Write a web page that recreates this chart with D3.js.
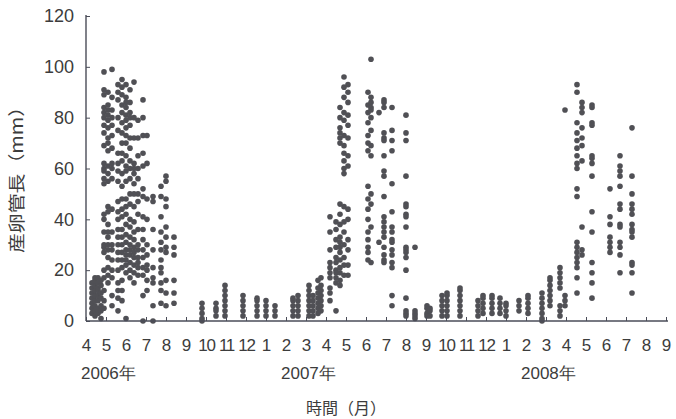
<!DOCTYPE html>
<html>
<head>
<meta charset="utf-8">
<script src="https://cdn.jsdelivr.net/npm/d3@7"></script>
<style>
  html, body { margin: 0; padding: 0; background: #ffffff; }
  svg { display: block; }
</style>
</head>
<body>
<svg id="chart" width="676" height="419"></svg>
<script>
// ---- data ----
const monthLabels = ["4","5","6","7","8","9","10","11","12","1","2","3","4","5","6","7","8","9","10","11","12","1","2","3","4","5","6","7","8","9"];
const yearLabels = ["2006年", "2007年", "2008年"];
const yearLabelMonth = [0, 10, 22];
const yTicks = [0, 20, 40, 60, 80, 100, 120];

// sampling dates, as months since April 2006
const sampleMonths = [
  0.30, 0.45, 0.60, 0.75, 0.90, 1.10, 1.30, 1.60, 1.80, 2.00, 2.20, 2.40, 2.60, 2.85, 3.05, 3.35, 3.75, 4.00, 4.40,
  5.80, 6.50, 6.95, 7.85, 8.55, 9.00, 9.45, 10.35, 10.60, 11.15, 11.35, 11.60, 11.75,
  12.20, 12.50, 12.70, 12.90, 13.10, 14.10, 14.25, 14.65, 14.90, 15.30, 16.00, 16.45,
  17.05, 17.20, 17.80, 18.05, 18.70, 19.60, 19.85, 20.30, 20.70, 21.00, 21.65, 22.10,
  22.80, 23.20, 23.70, 23.95, 24.55, 24.80, 25.30, 26.20, 26.70, 27.30
];
// ovipositor lengths (mm) measured at each sampling date
const sampleValues = [
  [3, 5, 7, 9, 11, 13, 15],
  [2, 4, 6, 8, 10, 12, 14, 16, 17],
  [3, 5, 8, 10, 12, 13, 15, 17],
  [1, 4, 6, 9, 11, 14, 16],
  [98, 91, 89, 84, 82, 80, 77, 74, 69, 62, 60, 59, 56, 54, 42, 40, 35, 30, 29, 27, 20, 17, 12, 8, 5],
  [90, 85, 83, 81, 79, 76, 72, 70, 67, 61, 58, 55, 45, 43, 38, 35, 33, 30, 28, 25, 21, 18, 15],
  [99, 88, 83, 80, 77, 73, 68, 62, 60, 56, 44, 35, 30, 28, 24, 20, 17, 10, 6],
  [93, 90, 87, 80, 75, 66, 62, 59, 55, 47, 43, 40, 36, 33, 30, 27, 24, 20, 15, 12, 9, 4],
  [95, 92, 89, 85, 82, 78, 74, 70, 66, 63, 58, 53, 48, 44, 41, 36, 33, 30, 27, 24, 21, 16, 12, 8],
  [93, 88, 86, 84, 81, 79, 76, 73, 70, 65, 61, 59, 55, 48, 45, 42, 38, 34, 31, 28, 26, 24, 22, 19, 1],
  [91, 86, 82, 80, 77, 72, 68, 63, 60, 56, 50, 46, 40, 37, 33, 30, 28, 26, 23, 20, 17],
  [94, 80, 72, 62, 60, 58, 54, 50, 45, 39, 35, 32, 29, 27, 25, 22, 19, 15],
  [79, 72, 65, 60, 56, 50, 47, 42, 36, 30, 28, 25, 23, 21, 18],
  [87, 80, 73, 66, 61, 52, 49, 41, 36, 32, 28, 25, 21, 18, 10, 0],
  [73, 62, 48, 40, 30, 26, 22, 20, 16, 12],
  [49, 47, 36, 28, 21, 17, 15, 6, 0],
  [53, 49, 41, 35, 31, 28, 24, 21, 19, 15, 12, 7],
  [57, 55, 48, 45, 37, 33, 29, 27, 16, 11, 6],
  [33, 29, 26, 16, 11, 7],
  [0, 1, 3, 5, 7],
  [2, 4, 5, 7],
  [2, 4, 6, 8, 10, 12, 14],
  [2, 4, 6, 8, 10],
  [2, 4, 6, 8, 9],
  [2, 4, 6, 8],
  [2, 4, 6],
  [2, 4, 6, 8, 9],
  [2, 4, 6, 8, 10],
  [2, 4, 6, 8, 10, 12, 14],
  [2, 4, 6, 8, 10],
  [3, 5, 7, 9, 11, 13, 16],
  [4, 6, 8, 10, 12, 14, 17],
  [41, 35, 28, 23, 21, 19, 17, 13, 11, 8],
  [39, 36, 32, 29, 25, 23, 20, 19, 17, 15, 4],
  [84, 80, 76, 74, 72, 70, 46, 42, 38, 33, 31, 29, 27, 24, 21, 19, 16, 14],
  [96, 92, 88, 82, 79, 73, 69, 66, 63, 60, 58, 45, 39, 35, 30, 25, 22, 18],
  [93, 90, 86, 81, 77, 72, 65, 61, 44, 40, 32, 28, 22, 18],
  [90, 85, 82, 78, 73, 70, 67, 53, 48, 44, 40, 35, 32, 29, 27, 24],
  [103, 88, 86, 84, 83, 80, 75, 69, 65, 50, 46, 37, 23],
  [82, 31],
  [87, 86, 84, 74, 72, 71, 65, 59, 57, 49, 41, 39, 37, 35, 33, 29, 26, 24, 23],
  [84, 75, 71, 67, 54, 43, 37, 35, 32, 31, 28, 26, 23, 21, 10, 6],
  [81, 74, 71, 57, 46, 45, 42, 41, 37, 29, 28, 27, 25, 20, 9, 4, 3, 2],
  [29, 1, 2, 3, 4],
  [2, 3, 5, 6],
  [2, 4, 5],
  [2, 4, 6, 8, 10],
  [2, 4, 6, 8, 10, 11],
  [2, 4, 6, 8, 10, 12, 13],
  [2, 4, 6, 8],
  [3, 5, 7, 9, 10],
  [3, 5, 7, 9, 10],
  [3, 5, 7, 9],
  [2, 4, 6, 7],
  [4, 6, 8],
  [3, 5, 7, 9, 10],
  [0, 1, 3, 5, 7, 9, 11],
  [6, 8, 10, 12, 14, 16, 17],
  [2, 4, 6, 13, 15, 17, 19, 21],
  [83, 6, 8, 10],
  [93, 90, 78, 74, 71, 68, 65, 62, 60, 52, 49, 31, 29, 27, 25, 23, 21, 17, 11],
  [86, 84, 82, 76, 72, 69, 63, 37, 28, 26],
  [85, 84, 78, 77, 65, 64, 62, 57, 43, 35, 23, 19, 15, 9],
  [52, 41, 38, 33, 31, 29, 27],
  [65, 61, 59, 57, 53, 46, 44, 38, 37, 31, 29, 26, 19],
  [76, 57, 50, 46, 44, 42, 38, 36, 35, 33, 23, 22, 19, 11]
];

// ---- chart ----
const svg = d3.select("#chart");
const x = d3.scaleLinear().domain([0, 29]).range([86, 666]);
const y = d3.scaleLinear().domain([0, 120]).range([321, 16]);

const axisColor = "#4a4c58";
const textColor = "#3c3c3c";
const font = "'Liberation Sans', Arial, sans-serif";
const cjk = "'Noto Sans CJK JP', 'Noto Sans CJK SC', sans-serif";

const points = [];
sampleMonths.forEach((m, i) => sampleValues[i].forEach(v => points.push({m, v})));

// points
svg.append("g").selectAll("circle").data(points).join("circle")
  .attr("cx", d => x(d.m))
  .attr("cy", d => y(d.v))
  .attr("r", 2.8)
  .attr("fill", "#505055");

// y axis
const yAxis = d3.axisLeft(y).tickValues(yTicks).tickSize(-4).tickPadding(12).tickFormat(d3.format("d"));
const gy = svg.append("g").attr("transform", `translate(${x(0)},0)`).call(yAxis);
gy.select(".domain").attr("stroke", axisColor).attr("stroke-width", 1.4)
  .attr("d", `M0,${y(0)}V${y(120) - 1}`);
gy.selectAll(".tick line").attr("stroke", axisColor).attr("stroke-width", 1);
gy.selectAll(".tick text").attr("fill", textColor).style("font-family", font).style("font-size", "18px");

// x axis
const xAxis = d3.axisBottom(x).tickValues(d3.range(0, 30)).tickSize(-4).tickPadding(18)
  .tickFormat(i => monthLabels[i]);
const gx = svg.append("g").attr("transform", `translate(0,${y(0)})`).call(xAxis);
gx.select(".domain").attr("stroke", axisColor).attr("stroke-width", 1.6)
  .attr("d", `M${x(0)},0H${x(29) + 2}`);
gx.selectAll(".tick line").attr("stroke", axisColor).attr("stroke-width", 1);
gx.selectAll(".tick text").attr("fill", textColor).style("font-family", font).style("font-size", "17px")
  .attr("letter-spacing", d => monthLabels[d].length > 1 ? "-1.2px" : "0px");

// year labels
svg.append("g").selectAll("text").data(yearLabels).join("text")
  .attr("x", (d, i) => x(yearLabelMonth[i]) - 5)
  .attr("y", 379)
  .attr("fill", textColor)
  .style("font-family", font)
  .style("font-size", "17px")
  .text(d => d);

// axis titles
svg.append("text")
  .attr("x", 346).attr("y", 414)
  .attr("text-anchor", "middle")
  .attr("fill", textColor)
  .style("font-family", cjk)
  .style("font-size", "16px")
  .text("時間（月）");

svg.append("text")
  .attr("transform", "translate(23,175) rotate(-90)")
  .attr("text-anchor", "middle")
  .attr("fill", textColor)
  .style("font-family", cjk)
  .style("font-size", "17px")
  .attr("textLength", 156)
  .attr("lengthAdjust", "spacingAndGlyphs")
  .text("産卵管長（mm）");
</script>
</body>
</html>
